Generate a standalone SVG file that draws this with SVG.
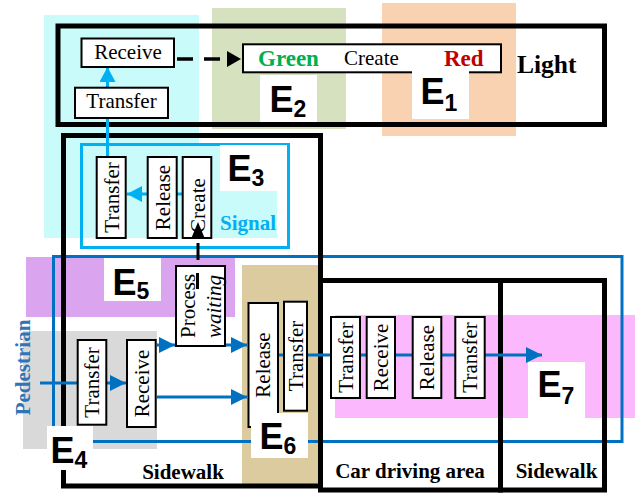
<svg xmlns="http://www.w3.org/2000/svg" width="635" height="493" viewBox="0 0 635 493">
<style>
.t{font-family:"Liberation Serif","Times New Roman",serif;font-size:21px;fill:#000}
.tb{font-family:"Liberation Serif","Times New Roman",serif;font-weight:bold;font-size:21px}
.e{font-family:"Liberation Sans",Arial,sans-serif;font-weight:bold;font-size:36px;fill:#000}
.sub{font-size:23px}
.box{fill:#fff;stroke:#000;stroke-width:2}
.reg{fill:none;stroke:#000;stroke-width:5}
.lbl{fill:#fff}
.ped{fill:none;stroke:#0070c0;stroke-width:3}
.sig{fill:none;stroke:#00b0f0;stroke-width:3}
.blk{fill:none;stroke:#000;stroke-width:3}
</style>
<defs>
<marker id="ah-ped" markerUnits="userSpaceOnUse" markerWidth="16" markerHeight="16" refX="16" refY="8" orient="auto"><path d="M0,0 L16,8 L0,16 z" fill="#0070c0"/></marker>
<marker id="ah-sig" markerUnits="userSpaceOnUse" markerWidth="15" markerHeight="16" refX="15" refY="8" orient="auto"><path d="M0,0 L15,8 L0,16 z" fill="#00b0f0"/></marker>
<marker id="ah-blk" markerUnits="userSpaceOnUse" markerWidth="14" markerHeight="16" refX="0" refY="8" orient="auto"><path d="M0,0 L14,8 L0,16 z" fill="#000"/></marker>
</defs>
<rect x="0" y="0" width="635" height="493" fill="#fff"/>
<g id="regions">
<polygon points="44,15 199,15 199,145 277,145 277,238 44,238" fill="#c9fbfb"/>
<rect x="212" y="8" width="134" height="121" fill="#d6e1bf"/>
<rect x="382" y="3" width="134" height="133" fill="#f9d3b1"/>
<rect x="26" y="257" width="209" height="60" fill="#daa4ef"/>
<rect x="23" y="331" width="134" height="118" fill="#d9d9d9"/>
<rect x="242" y="265" width="76" height="222" fill="#dccb9f"/>
<rect x="335" y="315" width="300" height="103" fill="#fcb8fc"/>
</g>
<g id="signal-area"><rect class="sig" x="81.5" y="144.5" width="207" height="103"/>
<text class="tb" x="220" y="230" fill="#00b0f0">Signal</text></g>
<g id="pedestrian-area"><rect class="ped" x="53.5" y="256.5" width="568.5" height="185"/>
<text class="tb" transform="translate(30,367.5) rotate(-90)" text-anchor="middle" fill="#2e75b6">Pedestrian</text></g>
<g id="light-area"><rect class="reg" x="58" y="26" width="546.5" height="98.5"/>
<text class="tb" x="517" y="73" style="font-size:25.5px">Light</text></g>
<g id="sidewalk-left"><rect class="reg" x="63.5" y="135.5" width="257" height="350.5"/>
<text class="tb" x="183" y="479" text-anchor="middle">Sidewalk</text></g>
<g id="car-area"><rect class="reg" x="320.5" y="280.5" width="180" height="209.5"/>
<text class="tb" x="410" y="478" text-anchor="middle">Car driving area</text></g>
<g id="sidewalk-right"><rect class="reg" x="500.5" y="280.5" width="104" height="209.5"/>
<text class="tb" x="556.5" y="478" text-anchor="middle">Sidewalk</text></g>
<g id="connectors">
<line x1="107.5" y1="157" x2="107.5" y2="67" class="sig" marker-end="url(#ah-sig)"/>
<line x1="177" y1="59" x2="227" y2="59" stroke="#000" stroke-width="3.5" stroke-dasharray="16 11" marker-end="url(#ah-blk)"/>
<line x1="183" y1="194" x2="127" y2="194" class="sig" marker-end="url(#ah-sig)"/>
<line x1="198" y1="243" x2="198" y2="260" class="blk"/>
<line x1="40" y1="383" x2="78" y2="383" class="ped"/>
<line x1="107" y1="383" x2="126" y2="383" class="ped" marker-end="url(#ah-ped)"/>
<line x1="157" y1="345" x2="175" y2="345" class="ped" marker-end="url(#ah-ped)"/>
<line x1="226" y1="345" x2="247" y2="345" class="ped" marker-end="url(#ah-ped)"/>
<line x1="157" y1="397" x2="247" y2="397" class="ped" marker-end="url(#ah-ped)"/>
<line x1="279" y1="355" x2="542" y2="355" class="ped" marker-end="url(#ah-ped)"/>
</g>
<g id="light-receive"><rect class="box" x="81.5" y="38.5" width="92.5" height="28.5"/><text class="t" x="128" y="59" text-anchor="middle">Receive</text></g>
<g id="light-transfer"><rect class="box" x="75" y="87.7" width="93" height="30.3"/><text class="t" x="121.5" y="108" text-anchor="middle">Transfer</text></g>
<g id="light-create"><rect class="box" x="243" y="44.3" width="258" height="28"/>
<text class="tb" x="258" y="66" style="font-size:23px" fill="#00b050">Green</text>
<text class="t" x="344" y="65">Create</text>
<text class="tb" x="444" y="66" style="font-size:23px" fill="#c00000">Red</text></g>
<g id="signal-transfer"><rect class="box" x="96.7" y="157" width="29" height="81"/><text class="t" transform="translate(118.5,197.5) rotate(-90)" text-anchor="middle">Transfer</text></g>
<g id="signal-release"><rect class="box" x="147.7" y="157" width="29" height="81"/><text class="t" transform="translate(169.5,197.5) rotate(-90)" text-anchor="middle">Release</text></g>
<g id="signal-create"><rect class="box" x="182.7" y="157" width="28.6" height="81"/><text class="t" transform="translate(204.5,233) rotate(-90)">Create</text>
<polygon points="198,222 191,239 205,239" fill="#000"/></g>
<g id="ped-transfer"><rect class="box" x="77.7" y="340" width="28.6" height="84.7"/><text class="t" transform="translate(99,382.5) rotate(-90)" text-anchor="middle">Transfer</text></g>
<g id="ped-receive"><rect class="box" x="127" y="340" width="28.7" height="87"/><text class="t" transform="translate(148.5,383.5) rotate(-90)" text-anchor="middle">Receive</text></g>
<g id="ped-process"><rect class="box" x="176" y="266" width="49" height="80"/>
<text class="t" transform="translate(195,338) rotate(-90)">Process</text>
<text class="t" transform="translate(221,338) rotate(-90)" font-style="italic">waiting</text>
<line x1="197.5" y1="273" x2="197.5" y2="289" class="blk"/></g>
<g id="e6-release"><rect class="box" x="248.5" y="303" width="29.5" height="124"/><text class="t" transform="translate(270,365) rotate(-90)" text-anchor="middle">Release</text></g>
<g id="e6-transfer"><rect class="box" x="284" y="301.7" width="23" height="109"/><text class="t" transform="translate(303,356) rotate(-90)" text-anchor="middle">Transfer</text></g>
<g id="car-transfer1"><rect class="box" x="331" y="317" width="29" height="81"/><text class="t" transform="translate(352.5,357.5) rotate(-90)" text-anchor="middle">Transfer</text></g>
<g id="car-receive"><rect class="box" x="366.7" y="317" width="28.3" height="81"/><text class="t" transform="translate(388,357.5) rotate(-90)" text-anchor="middle">Receive</text></g>
<g id="car-release"><rect class="box" x="412.7" y="317" width="28.6" height="81"/><text class="t" transform="translate(434,357.5) rotate(-90)" text-anchor="middle">Release</text></g>
<g id="car-transfer2"><rect class="box" x="455.3" y="317" width="29.4" height="81"/><text class="t" transform="translate(477,357.5) rotate(-90)" text-anchor="middle">Transfer</text></g>
<g id="labels">
<rect class="lbl" x="412" y="71" width="57" height="48"/><text class="e" x="420.5" y="104">E<tspan class="sub" dy="7">1</tspan></text>
<rect class="lbl" x="260" y="75" width="57" height="47"/><text class="e" x="269.5" y="112">E<tspan class="sub" dy="5">2</tspan></text>
<rect class="lbl" x="220" y="145" width="67" height="46"/><text class="e" x="227.5" y="181">E<tspan class="sub" dy="5">3</tspan></text>
<rect class="lbl" x="104" y="258" width="57" height="43"/><text class="e" x="112.5" y="295">E<tspan class="sub" dy="4">5</tspan></text>
<rect class="lbl" x="47" y="426" width="46" height="44"/><text class="e" x="50.5" y="463">E<tspan class="sub" dy="5">4</tspan></text>
<rect class="lbl" x="251" y="413" width="57" height="45"/><text class="e" x="259.5" y="449">E<tspan class="sub" dy="5">6</tspan></text>
<rect class="lbl" x="528" y="362" width="57" height="56"/><text class="e" x="537.5" y="397">E<tspan class="sub" dy="7">7</tspan></text>
</g>
</svg>
